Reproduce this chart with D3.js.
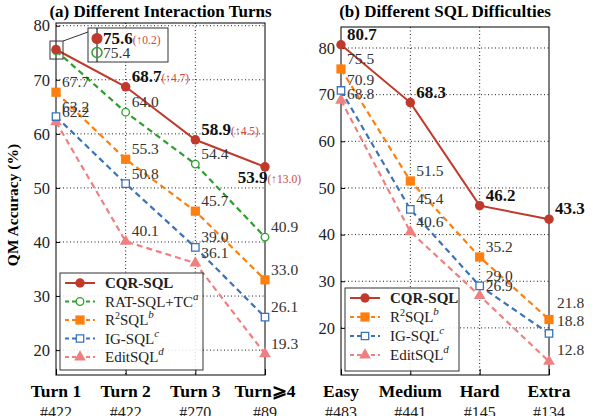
<!DOCTYPE html>
<html>
<head>
<meta charset="utf-8">
<script src="https://cdn.jsdelivr.net/npm/d3@7"></script>
<style>
  body { margin: 0; background: #fff; }
  text { font-family: "Liberation Serif", "DejaVu Serif", serif; }
</style>
</head>
<body>
<script>
  // ---- data ----
  const turnCats = ['Turn 1', 'Turn 2', 'Turn 3', 'Turn\u2a7e4'];
  const turnCounts = ['#422', '#422', '#270', '#89'];
  const diffCats = ['Easy', 'Medium', 'Hard', 'Extra'];
  const diffCounts = ['#483', '#441', '#145', '#134'];

  const turnCqr = [75.6, 68.7, 58.9, 53.9];
  const turnGain = ['0.2', '4.7', '4.5', '13.0'];
  const turnRat = [75.4, 64.0, 54.4, 40.9];
  const turnR2 = [67.7, 55.3, 45.7, 33.0];
  const turnIg = [63.2, 50.8, 39.0, 26.1];
  const turnEdit = [62.2, 40.1, 36.1, 19.3];

  const diffCqr = [80.7, 68.3, 46.2, 43.3];
  const diffR2 = [75.5, 51.5, 35.2, 21.8];
  const diffIg = [70.9, 45.4, 29.0, 18.8];
  const diffEdit = [68.8, 40.6, 26.9, 12.8];

  const yTicks = [20, 30, 40, 50, 60, 70, 80];

  // ---- styles ----
  const styles = {
    cqr:  { name: 'CQR-SQL', color: '#c0392b', sym: d3.symbolCircle, size: 70, hollow: false, dash: null, bold: true },
    rat:  { name: 'RAT-SQL+TC', sup: 'a', color: '#2ca02c', sym: d3.symbolCircle, size: 45, hollow: true, dash: '6,4' },
    r2:   { name: 'R2SQL', sup: 'b', color: '#ff7f0e', sym: d3.symbolSquare, size: 85, hollow: false, dash: '6,4' },
    ig:   { name: 'IG-SQL', sup: 'c', color: '#3b73b9', sym: d3.symbolSquare, size: 55, hollow: true, dash: '6,4' },
    edit: { name: 'EditSQL', sup: 'd', color: '#f08080', sym: d3.symbolTriangle, size: 60, hollow: false, dash: '6,4' },
  };
  const gainColor = '#c94a3a';

  const W = 592, H = 416;
  const svg = d3.select('body').append('svg')
    .attr('width', W).attr('height', H);

  const drawName = (sel, s) => {
    if (s.name === 'R2SQL') {
      sel.append('tspan').text('R');
      sel.append('tspan').attr('font-size', 10).attr('dy', -6).text('2');
      sel.append('tspan').attr('dy', 6).text('SQL');
    } else {
      sel.append('tspan').text(s.name).attr('font-weight', s.bold ? 'bold' : null);
    }
    if (s.sup) {
      sel.append('tspan').attr('font-size', 11).attr('font-style', 'italic')
        .attr('dy', -7).text(s.sup);
    }
  };

  const panel = (opts) => {
    const { left, right, top, bottom, domain, cats, counts, series, title } = opts;
    const g = svg.append('g');

    const x = d3.scalePoint().domain(cats).range([left, right]).padding(0);
    const y = d3.scaleLinear().domain(domain).range([bottom, top]);

    // grid
    g.append('g').selectAll('line')
      .data(yTicks)
      .join('line')
      .attr('x1', left).attr('x2', right)
      .attr('y1', d => y(d)).attr('y2', d => y(d))
      .attr('stroke', '#000').attr('stroke-width', 0.9)
      .attr('stroke-dasharray', '1,2.5');
    g.append('g').selectAll('line')
      .data(cats.slice(1, -1))
      .join('line')
      .attr('x1', d => x(d)).attr('x2', d => x(d))
      .attr('y1', top).attr('y2', bottom)
      .attr('stroke', '#000').attr('stroke-width', 0.9)
      .attr('stroke-dasharray', '1,2.5');

    // frame
    g.append('rect')
      .attr('x', left).attr('y', top)
      .attr('width', right - left).attr('height', bottom - top)
      .attr('fill', 'none').attr('stroke', '#000').attr('stroke-width', 1);

    // axes
    const ya = g.append('g')
      .attr('transform', `translate(${left},0)`)
      .call(d3.axisLeft(y).tickValues(yTicks).tickSize(-4).tickPadding(6));
    ya.select('.domain').remove();
    ya.selectAll('text').attr('font-size', 16.5).attr('fill', '#222');

    const xa = g.append('g')
      .attr('transform', `translate(0,${bottom})`)
      .call(d3.axisBottom(x).tickSize(-6).tickFormat(''));
    xa.select('.domain').remove();

    g.selectAll('text.cat')
      .data(cats)
      .join('text')
      .attr('class', 'cat')
      .attr('x', d => x(d)).attr('y', bottom + 22)
      .attr('text-anchor', 'middle').attr('font-size', 17.5).attr('font-weight', 'bold')
      .text(d => d);
    g.selectAll('text.cnt')
      .data(counts)
      .join('text')
      .attr('class', 'cnt')
      .attr('x', (d, i) => x(cats[i])).attr('y', bottom + 43)
      .attr('text-anchor', 'middle').attr('font-size', 16).attr('fill', '#222')
      .text(d => d);

    // title
    svg.append('text')
      .attr('x', (left + right) / 2).attr('y', 17)
      .attr('text-anchor', 'middle').attr('font-size', 17).attr('font-weight', 'bold')
      .text(title);

    // series lines & markers (draw back to front)
    const line = d3.line().x((d, i) => x(cats[i])).y(d => y(d));
    series.slice().reverse().forEach(({ key, values }) => {
      const s = styles[key];
      g.append('path')
        .datum(values)
        .attr('d', line)
        .attr('fill', 'none').attr('stroke', s.color)
        .attr('stroke-width', key === 'cqr' ? 2 : 2.2)
        .attr('stroke-dasharray', s.dash);
      g.selectAll(null)
        .data(values)
        .join('path')
        .attr('transform', (d, i) => `translate(${x(cats[i])},${y(d)})`)
        .attr('d', d3.symbol().type(s.sym).size(s.size))
        .attr('fill', s.hollow ? '#fff' : s.color)
        .attr('stroke', s.color).attr('stroke-width', s.hollow ? 1.3 : 0);
    });

    return { g, x, y };
  };

  const labels = (p, values, cats, opts = {}) => {
    const { skip = [], bold = false, gains = null, special = {} } = opts;
    values.forEach((v, i) => {
      if (skip.includes(i)) return;
      const sp = special[i] || {};
      const t = p.g.append('text')
        .attr('x', p.x(cats[i]) + (sp.dx ?? 6))
        .attr('y', p.y(v) + (sp.dy ?? -5))
        .attr('text-anchor', sp.anchor || 'start')
        .attr('font-size', bold ? 17 : 15.5)
        .attr('fill', bold ? '#111' : '#333');
      t.append('tspan').attr('font-weight', bold ? 'bold' : null).text(v.toFixed(1));
      if (gains) {
        t.append('tspan').attr('font-size', 11.5).attr('fill', gainColor)
          .text(`(\u2191${gains[i]})`);
      }
    });
  };

  const legend = (lx, ly, w, h, keys, rowH) => {
    const lg = svg.append('g');
    lg.append('rect')
      .attr('x', lx).attr('y', ly).attr('width', w).attr('height', h)
      .attr('fill', '#fff').attr('fill-opacity', 0.85)
      .attr('stroke', '#333').attr('stroke-width', 1);
    keys.forEach((k, i) => {
      const s = styles[k];
      const cy = ly + 10 + i * rowH;
      lg.append('line')
        .attr('x1', lx + 5).attr('x2', lx + 35).attr('y1', cy).attr('y2', cy)
        .attr('stroke', s.color).attr('stroke-width', 2)
        .attr('stroke-dasharray', s.dash ? '4,3' : null);
      lg.append('path')
        .attr('transform', `translate(${lx + 20},${cy})`)
        .attr('d', d3.symbol().type(s.sym).size(s.size))
        .attr('fill', s.hollow ? '#fff' : s.color)
        .attr('stroke', s.color).attr('stroke-width', s.hollow ? 1.3 : 0);
      const t = lg.append('text')
        .attr('x', lx + 45).attr('y', cy + 5)
        .attr('font-size', 15).attr('fill', '#222');
      drawName(t, s);
    });
  };

  // ---- panel (a) ----
  const pa = panel({
    left: 56, right: 265, top: 23, bottom: 375,
    domain: [15.4, 80.5], cats: turnCats, counts: turnCounts,
    title: '(a) Different Interaction Turns',
    series: [
      { key: 'cqr', values: turnCqr },
      { key: 'rat', values: turnRat },
      { key: 'r2', values: turnR2 },
      { key: 'ig', values: turnIg },
      { key: 'edit', values: turnEdit },
    ],
  });
  labels(pa, turnR2, turnCats);
  labels(pa, turnIg, turnCats);
  labels(pa, turnEdit, turnCats);
  labels(pa, turnRat, turnCats, { skip: [0] });
  labels(pa, turnCqr, turnCats, {
    skip: [0], bold: true, gains: turnGain,
    special: { 3: { dx: 36, dy: 16, anchor: 'end' } },
  });

  // zoom callout around Turn 1
  const zx = pa.x(turnCats[0]);
  const zy = pa.y((turnCqr[0] + turnRat[0]) / 2);
  pa.g.append('rect')
    .attr('x', zx - 6).attr('y', zy - 9).attr('width', 13).attr('height', 18)
    .attr('fill', 'none').attr('stroke', '#333').attr('stroke-width', 1);
  pa.g.append('line')
    .attr('x1', zx + 7).attr('y1', zy - 9).attr('x2', 88).attr('y2', 32)
    .attr('stroke', '#333').attr('stroke-width', 1);
  const cb = pa.g.append('g');
  cb.append('rect')
    .attr('x', 88).attr('y', 28).attr('width', 80).attr('height', 34)
    .attr('fill', '#fff').attr('stroke', '#333').attr('stroke-width', 1);
  cb.append('line')
    .attr('x1', 97).attr('x2', 97).attr('y1', 28).attr('y2', 62)
    .attr('stroke', '#000').attr('stroke-width', 1);
  cb.append('circle').attr('cx', 97).attr('cy', 38.5).attr('r', 5.5)
    .attr('fill', styles.cqr.color);
  cb.append('circle').attr('cx', 97).attr('cy', 52.5).attr('r', 5)
    .attr('fill', 'none').attr('stroke', styles.rat.color).attr('stroke-width', 1.5);
  const c1 = cb.append('text').attr('x', 103).attr('y', 44).attr('font-size', 17).attr('fill', '#111');
  c1.append('tspan').attr('font-weight', 'bold').text(turnCqr[0].toFixed(1));
  c1.append('tspan').attr('font-size', 11.5).attr('fill', gainColor).text(`(\u2191${turnGain[0]})`);
  cb.append('text').attr('x', 103).attr('y', 58).attr('font-size', 15.5).attr('fill', '#333')
    .text(turnRat[0].toFixed(1));

  legend(60, 273, 143, 97, ['cqr', 'rat', 'r2', 'ig', 'edit'], 18.5);

  // ---- panel (b) ----
  const pb = panel({
    left: 341, right: 549, top: 27, bottom: 375,
    domain: [9.9, 84.5], cats: diffCats, counts: diffCounts,
    title: '(b) Different SQL Difficulties',
    series: [
      { key: 'cqr', values: diffCqr },
      { key: 'r2', values: diffR2 },
      { key: 'ig', values: diffIg },
      { key: 'edit', values: diffEdit },
    ],
  });
  labels(pb, diffR2, diffCats, { special: { 3: { dx: 8, dy: -11 } } });
  labels(pb, diffIg, diffCats, { special: { 3: { dx: 8, dy: -7 } } });
  labels(pb, diffEdit, diffCats, { special: { 0: { dy: -1 }, 3: { dx: 8, dy: -6 } } });
  labels(pb, diffCqr, diffCats, { bold: true });

  legend(345, 288, 114, 83, ['cqr', 'r2', 'ig', 'edit'], 19);

  // y axis title
  svg.append('text')
    .attr('transform', 'translate(18,205) rotate(-90)')
    .attr('text-anchor', 'middle').attr('font-size', 15.5).attr('font-weight', 'bold')
    .text('QM Accuracy (%)');
</script>
</body>
</html>
